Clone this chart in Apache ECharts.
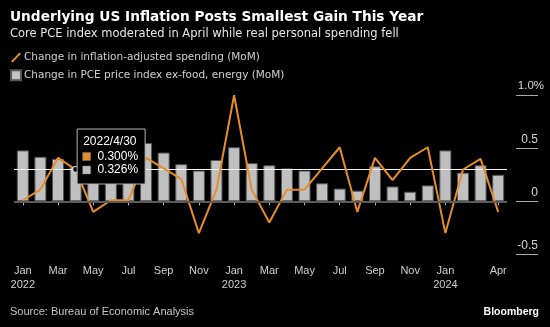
<!DOCTYPE html>
<html>
<head>
<meta charset="utf-8">
<script src="https://cdn.jsdelivr.net/npm/echarts@6/dist/echarts.min.js"></script>
<style>
  html, body { margin: 0; padding: 0; background: #000; }
  #chart { width: 550px; height: 327px; }
</style>
</head>
<body>
<div id="chart"></div>
<script>
const categories = ['2022/1/31','2022/2/28','2022/3/31','2022/4/30','2022/5/31','2022/6/30','2022/7/31','2022/8/31','2022/9/30','2022/10/31','2022/11/30','2022/12/31',
  '2023/1/31','2023/2/28','2023/3/31','2023/4/30','2023/5/31','2023/6/30','2023/7/31','2023/8/31','2023/9/30','2023/10/31','2023/11/30','2023/12/31',
  '2024/1/31','2024/2/29','2024/3/31','2024/4/30'];
const tickLabels = ['Jan\n2022','','Mar','','May','','Jul','','Sep','','Nov','',
  'Jan\n2023','','Mar','','May','','Jul','','Sep','','Nov','',
  'Jan\n2024','','','Apr'];
// Change in inflation-adjusted spending (MoM), %
const spending = [0.01, 0.11, 0.41, 0.300, -0.10, 0.01, 0.01, 0.41, 0.31, 0.21, -0.30, 0.11,
  1.00, 0.11, -0.20, 0.11, 0.11, 0.31, 0.51, -0.10, 0.41, 0.20, 0.41, 0.51,
  -0.30, 0.30, 0.40, -0.10];
// Change in PCE price index ex-food, energy (MoM), %
const corePce = [0.48, 0.42, 0.40, 0.326, 0.40, 0.60, 0.20, 0.55, 0.46, 0.35, 0.29, 0.39,
  0.51, 0.36, 0.34, 0.31, 0.29, 0.17, 0.12, 0.10, 0.33, 0.14, 0.09, 0.15,
  0.48, 0.27, 0.34, 0.25];
const yTickLabels = { '-0.5': '-0.5', '0': '0', '0.5': '0.5', '1': '1.0%' };
const tipIndex = 3;

const seriesNames = ['Change in inflation-adjusted spending (MoM)', 'Change in PCE price index ex-food, energy (MoM)'];
const ORANGE = '#e68d29';
const GRAY = '#c0c0c0';
const FONT = 'Liberation Sans';
const FONT2 = 'DejaVu Sans';

const chart = echarts.init(document.getElementById('chart'), null, { renderer: 'canvas' });

chart.setOption({
  backgroundColor: '#000',
  animation: false,
  textStyle: { fontFamily: FONT },
  title: [
    { text: 'Underlying US Inflation Posts Smallest Gain This Year', left: 10, top: 9, padding: 0,
      textStyle: { color: '#fff', fontSize: 13.7, fontWeight: 'bold', fontFamily: FONT2, lineHeight: 16 } },
    { text: 'Core PCE index moderated in April while real personal spending fell', left: 10, top: 27, padding: 0,
      textStyle: { color: '#e6e6e6', fontSize: 11.5, fontWeight: 'normal', fontFamily: FONT2, lineHeight: 14 } },
    { text: 'Source: Bureau of Economic Analysis', left: 10, top: 305, padding: 0,
      textStyle: { color: '#c4c4c4', fontSize: 11, fontWeight: 'normal', fontFamily: FONT, lineHeight: 14 } },
    { text: 'Bloomberg', right: 11, top: 305, padding: 0,
      textStyle: { color: '#fff', fontSize: 10.5, fontWeight: 'bold', fontFamily: FONT, lineHeight: 14 } }
  ],
  legend: {
    orient: 'vertical', left: 10, top: 52, padding: 0, itemWidth: 10, itemHeight: 10, itemGap: 6.2,
    textStyle: { color: '#d0d0d0', fontSize: 10.5, fontFamily: FONT2, padding: [0, 0, 0, -2] },
    data: [
      { name: seriesNames[0], icon: 'path://M0,9 L1.6,10 L10,1.2 L8.4,0 Z' },
      { name: seriesNames[1], icon: 'rect' }
    ],
    selectedMode: false
  },
  grid: { left: 14, right: 43, top: 95.3, bottom: 72.7, containLabel: false },
  xAxis: {
    type: 'category', data: categories, boundaryGap: true,
    axisLine: { show: false },
    axisTick: { show: true, alignWithLabel: true, length: 4, interval: (i) => tickLabels[i] !== '',
      lineStyle: { color: '#bbb', width: 1 } },
    axisLabel: { interval: 0, formatter: (v, i) => tickLabels[i], color: '#cfcfcf', fontSize: 11,
      lineHeight: 14, margin: 10, fontFamily: FONT },
    splitLine: { show: false }
  },
  yAxis: {
    type: 'value', position: 'right', min: -0.5, max: 1.0, interval: 0.5, offset: 9,
    axisLine: { show: false },
    axisTick: { show: true, length: 22, inside: false, lineStyle: { color: '#aaa', width: 1 } },
    splitLine: { show: false },
    axisLabel: {
      formatter: (v) => {
        const t = yTickLabels[String(v)];
        return t.indexOf('%') >= 0 ? '{p|' + t + '}' : '{n|' + t + '}';
      },
      align: 'right', verticalAlign: 'bottom', margin: 0, color: '#d6d6d6', fontSize: 12, fontFamily: FONT,
      rich: {
        n: { color: '#d6d6d6', fontSize: 12, fontFamily: FONT, padding: [0, -22, 3, 0], align: 'right' },
        p: { color: '#d6d6d6', fontSize: 11.5, fontFamily: FONT, padding: [0, -28, 3, 0], align: 'right' }
      }
    }
  },
  series: [
    {
      name: seriesNames[1], type: 'bar', data: corePce, barWidth: 12, z: 2,
      itemStyle: { color: GRAY, borderColor: '#555', borderWidth: 1 },
      markLine: { silent: true, symbol: 'none', label: { show: false }, animation: false,
        lineStyle: { color: '#5a5a5a', width: 2, type: 'solid' }, data: [{ yAxis: 0 }] }
    },
    {
      name: seriesNames[0], type: 'line', data: spending, z: 4,
      symbol: 'none', lineStyle: { color: ORANGE, width: 2 }, itemStyle: { color: ORANGE },
      markLine: { silent: true, symbol: 'none', label: { show: false }, animation: false, z: 3,
        lineStyle: { color: '#f2f2f2', width: 1, type: 'solid' }, data: [{ yAxis: spending[tipIndex] }] }
    }
  ]
});

const pt = chart.convertToPixel({ xAxisIndex: 0, yAxisIndex: 0 }, [tipIndex, spending[tipIndex]]);
const bx = pt[0] + 1.5, by = pt[1] - 40.5;
chart.setOption({
  graphic: [
    { type: 'circle', shape: { cx: pt[0], cy: pt[1], r: 3 }, z: 20,
      style: { fill: '#000', stroke: '#ddd', lineWidth: 1.2 } },
    { type: 'rect', shape: { x: bx, y: by, width: 68, height: 55 }, z: 30,
      style: { fill: '#000', stroke: '#b4b4b4', lineWidth: 1 } },
    { type: 'text', x: bx + 6, y: by + 12.7, z: 31,
      style: { text: categories[tipIndex], fill: '#fff', font: '12px "Liberation Sans"', verticalAlign: 'middle', align: 'left' } },
    { type: 'rect', shape: { x: bx + 5.5, y: by + 23.5, width: 8, height: 8 }, z: 31,
      style: { fill: ORANGE, stroke: '#777', lineWidth: 0.5 } },
    { type: 'text', x: bx + 61, y: by + 27.7, z: 31,
      style: { text: spending[tipIndex].toFixed(3) + '%', fill: '#fff', font: '12px "Liberation Sans"', verticalAlign: 'middle', align: 'right' } },
    { type: 'rect', shape: { x: bx + 5.5, y: by + 37, width: 8, height: 8 }, z: 31,
      style: { fill: GRAY, stroke: '#777', lineWidth: 0.5 } },
    { type: 'text', x: bx + 61, y: by + 41, z: 31,
      style: { text: corePce[tipIndex].toFixed(3) + '%', fill: '#fff', font: '12px "Liberation Sans"', verticalAlign: 'middle', align: 'right' } }
  ]
});
</script>
</body>
</html>
